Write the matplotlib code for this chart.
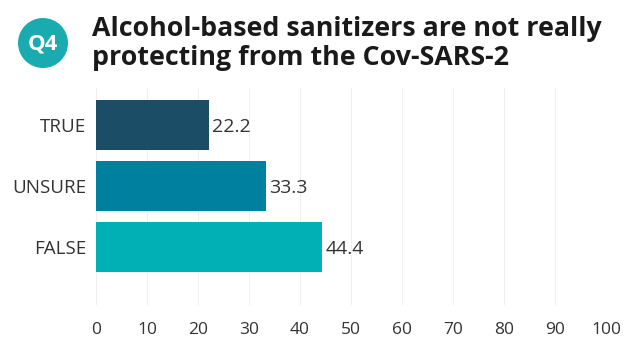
import matplotlib.pyplot as plt
from matplotlib.patches import Circle

# Survey answers for Q4
answers = ["TRUE", "UNSURE", "FALSE"]
shares = [22.2, 33.3, 44.4]
bar_colors = ["#1b4e66", "#00809f", "#00b0b5"]
xticks = [0, 10, 20, 30, 40, 50, 60, 70, 80, 90, 100]

plt.rcParams["font.family"] = ["Open Sans", "DejaVu Sans"]

fig = plt.figure(figsize=(6.27, 3.38), dpi=100, facecolor="white")
ax = fig.add_axes([96 / 627, 1 - 305 / 338, 510 / 627, 217 / 338])

ypos = list(range(len(answers)))
ax.barh(ypos, shares, height=0.82, color=bar_colors, zorder=2)
for y, v in zip(ypos, shares):
    ax.text(v + 0.6, y + 0.03, f"{v}", va="center", ha="left",
            fontsize=14, color="#333333")

ax.set_xlim(0, 100)
ax.set_ylim(2.95, -0.615)
ax.set_yticks(ypos)
ax.set_yticklabels(answers, fontsize=13.5, color="#333333")
ax.set_xticks(xticks)
ax.set_xticklabels([str(t) for t in xticks], fontsize=12.5, color="#333333")
ax.tick_params(axis="both", length=0)
ax.tick_params(axis="x", pad=12)
ax.tick_params(axis="y", pad=7)
ax.grid(axis="x", color="#efefef", linewidth=0.8, zorder=0)
for s in ax.spines.values():
    s.set_visible(False)

# Question badge
badge = Circle((0.43, (338 - 43) / 100), 0.25, transform=fig.dpi_scale_trans,
               facecolor="#1aabb0", edgecolor="none")
fig.patches.append(badge)
fig.text(43 / 627, 1 - 44 / 338, "Q4", ha="center", va="center",
         fontsize=16, fontweight="bold", color="white")

fig.text(92 / 627, 1 - 36 / 338, "Alcohol-based sanitizers are not really",
         ha="left", va="baseline", fontsize=19.3, fontweight="bold", color="#1a1a1a")
fig.text(92 / 627, 1 - 65 / 338, "protecting from the Cov-SARS-2",
         ha="left", va="baseline", fontsize=19.3, fontweight="bold", color="#1a1a1a")

fig.savefig("out.png", dpi=100, facecolor="white")
